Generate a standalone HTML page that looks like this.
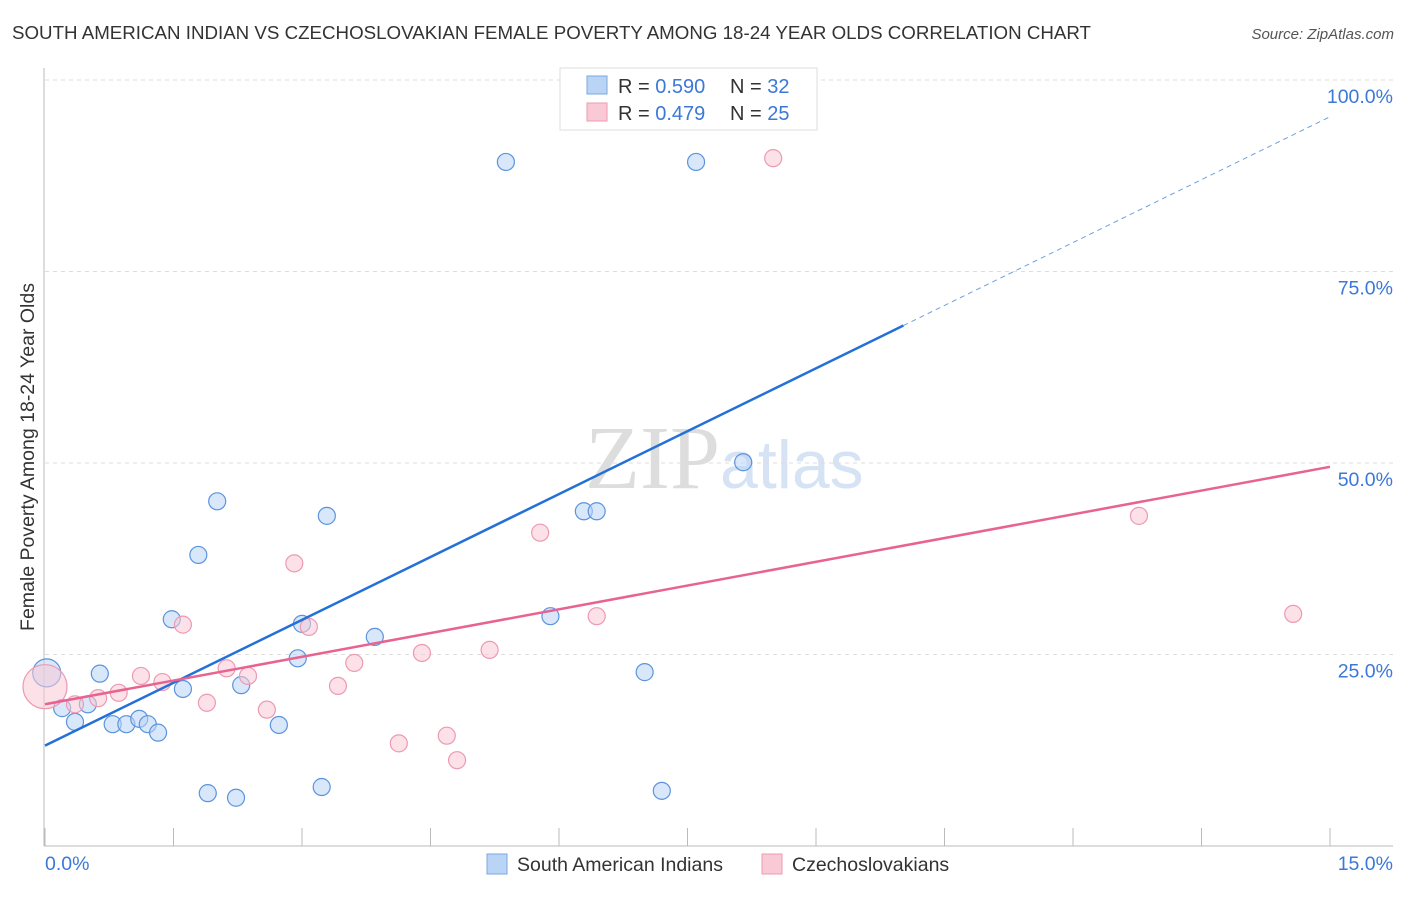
<!DOCTYPE html>
<html><head><meta charset="utf-8"><style>
body{margin:0;background:#fff;font-family:"Liberation Sans",sans-serif}
</style></head><body>
<svg id="c" width="1406" height="892" xmlns="http://www.w3.org/2000/svg" style="font-family:'Liberation Sans',sans-serif">
<text x="12" y="39" font-size="18" fill="#333" textLength="1079" lengthAdjust="spacingAndGlyphs">SOUTH AMERICAN INDIAN VS CZECHOSLOVAKIAN FEMALE POVERTY AMONG 18-24 YEAR OLDS CORRELATION CHART</text>
<text x="1394" y="39" font-size="15" fill="#555" text-anchor="end" font-style="italic">Source: ZipAtlas.com</text>
<text x="720" y="488" font-size="90" fill="#ddd" text-anchor="end" font-family="Liberation Serif">ZIP</text>
<text x="720" y="488" font-size="68" fill="#d5e3f5">atlas</text>
<text transform="translate(34,457) rotate(-90)" font-size="19.5" fill="#333" text-anchor="middle">Female Poverty Among 18-24 Year Olds</text>
<g id="grid"></g><g id="marks"></g>
<g>
<rect x="560" y="68" width="257" height="62" fill="#fff" stroke="#ddd"/>
<rect x="587" y="76" width="20" height="18" fill="#b9d4f5" stroke="#7aa8e0"/>
<rect x="587" y="103" width="20" height="18" fill="#f9c9d6" stroke="#ee9ab2"/>
<text x="618" y="93" font-size="20" fill="#333">R = <tspan fill="#3b78d8">0.590</tspan></text>
<text x="730" y="93" font-size="20" fill="#333">N = <tspan fill="#3b78d8">32</tspan></text>
<text x="618" y="120" font-size="20" fill="#333">R = <tspan fill="#3b78d8">0.479</tspan></text>
<text x="730" y="120" font-size="20" fill="#333">N = <tspan fill="#3b78d8">25</tspan></text>
</g>
<g>
<rect x="487" y="854" width="20" height="20" fill="#b9d4f5" stroke="#7aa8e0"/>
<text x="517" y="871" font-size="19.5" fill="#333">South American Indians</text>
<rect x="762" y="854" width="20" height="20" fill="#f9c9d6" stroke="#ee9ab2"/>
<text x="792" y="871" font-size="19.5" fill="#333">Czechoslovakians</text>
</g>
</svg>
<script>
const blueX=[0.02,0.2,0.35,0.5,0.64,0.79,0.95,1.1,1.2,1.32,1.48,1.61,1.79,1.9,2.01,2.23,2.29,2.73,2.95,3.0,3.23,3.29,3.85,5.38,5.9,6.29,6.44,7.0,7.2,7.25,7.6,8.15];
const blueY=[22.6,18.0,16.2,18.5,22.5,15.9,15.9,16.6,15.9,14.8,29.6,20.5,38.0,6.9,45.0,6.3,21.0,15.8,24.5,29.0,7.7,43.1,27.3,89.3,30.0,43.7,43.7,22.7,7.2,100,89.3,50.1];
const pinkX=[0,0.35,0.62,0.86,1.12,1.37,1.61,1.89,2.12,2.37,2.59,2.91,3.08,3.42,3.61,4.13,4.4,4.69,4.81,5.19,5.78,6.44,8.5,12.77,14.57];
const pinkY=[20.8,18.5,19.3,20.0,22.2,21.4,28.9,18.7,23.2,22.2,17.8,36.9,28.6,20.9,23.9,13.4,25.2,14.4,11.2,25.6,40.9,30.0,89.8,43.1,30.3];
const blueLine=[13.1,95.2]; const pinkLine=[18.5,49.5];
const yTicks=[25,50,75,100];
const xTicks=[0,1.5,3,4.5,6,7.5,9,10.5,12,13.5,15];
const X=v=>45+v/15*1285, Y=v=>846-v/100*766;
const NS="http://www.w3.org/2000/svg";
function mk(p,t,a){const e=document.createElementNS(NS,t);for(const k in a)e.setAttribute(k,a[k]);p.appendChild(e);return e;}
const g=document.getElementById('grid'),m=document.getElementById('marks');
yTicks.forEach(t=>{const l=mk(g,'line',{x1:45,x2:1393,y1:Y(t),y2:Y(t),stroke:'#ddd','stroke-dasharray':'4,4'});


const tx=mk(g,'text',{x:1393,y:Y(t)+23,'font-size':19.5,fill:'#3b78d8','text-anchor':'end'});tx.textContent=t.toFixed(1)+'%';

});
let a=mk(g,'line',{x1:44,x2:44,y1:68,y2:846,stroke:'#bbb'});


a=mk(g,'line',{x1:44,x2:1393,y1:846,y2:846,stroke:'#bbb'});


xTicks.forEach(t=>{const l=mk(g,'line',{x1:X(t),x2:X(t),y1:828,y2:846,stroke:'#bbb'});

});
[[0,'0.0%','start',45],[15,'15.0%','end',1393]].forEach(d=>{const tx=mk(g,'text',{x:d[3],y:870,'font-size':19.5,fill:'#3b78d8','text-anchor':d[2]});tx.textContent=d[1];

});
function dots(xs,ys,fill,stroke,name,big){xs.forEach((x,i)=>{const c=mk(m,'circle',{cx:X(x),cy:Y(ys[i]),r:i===0?big:8.5,fill:fill,'fill-opacity':0.55,stroke:stroke,'stroke-width':1.2});

});}
dots(blueX,blueY,'#b9d4f5','#5b94dc','blue-point',14);
dots(pinkX,pinkY,'#f9c9d6','#ec9ab2','pink-point',22);
let ln=mk(m,'line',{x1:X(0),y1:Y(blueLine[0]),x2:X(10.02),y2:Y(blueLine[0]+(blueLine[1]-blueLine[0])*10.02/15),stroke:'#2270d8','stroke-width':2.5});


ln=mk(m,'line',{x1:X(10.02),y1:Y(blueLine[0]+(blueLine[1]-blueLine[0])*10.02/15),x2:X(15),y2:Y(blueLine[1]),stroke:'#6f9fe0','stroke-width':1,'stroke-dasharray':'5,4'});


ln=mk(m,'line',{x1:X(0),y1:Y(pinkLine[0]),x2:X(15),y2:Y(pinkLine[1]),stroke:'#e8638f','stroke-width':2.5});


</script>
</body></html>
